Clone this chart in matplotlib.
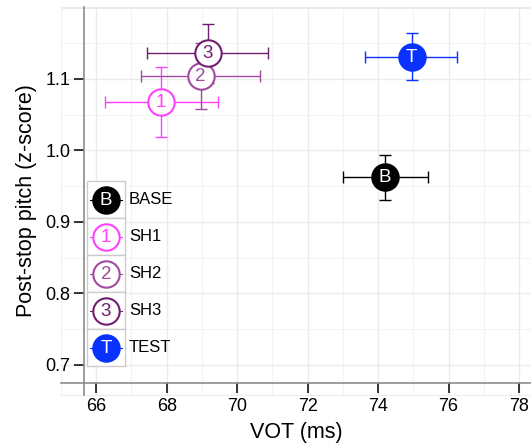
import numpy as np
import matplotlib
matplotlib.use("Agg")
from matplotlib import pyplot as plt
from matplotlib.patches import Rectangle

plt.rcParams['font.family'] = ['Liberation Sans', 'DejaVu Sans']

groups = ['BASE', 'SH1', 'SH2', 'SH3', 'TEST']
letters = ['B', '1', '2', '3', 'T']
colors = ['#000000', '#ff40ff', '#a04ba0', '#701e70', '#0a32ff']
filled = [True, False, False, False, True]

vot = [74.2, 67.84, 68.96, 69.17, 74.95]
vot_lo = [73.0, 66.24, 67.28, 67.45, 73.64]
vot_hi = [75.43, 69.46, 70.65, 70.87, 76.24]
pitch = [0.963, 1.068, 1.104, 1.136, 1.131]
pitch_lo = [0.931, 1.019, 1.058, 1.095, 1.098]
pitch_hi = [0.993, 1.117, 1.150, 1.177, 1.164]

x_ticks = [66, 68, 70, 72, 74, 76, 78]
y_ticks = [0.7, 0.8, 0.9, 1.0, 1.1]

fig = plt.figure(figsize=(5.31, 4.48), dpi=100)
ax = fig.add_axes([61 / 531, 1 - 395 / 448, 470 / 531, 388 / 448])
ax.set_xlim(65.248, 78.34)
ax.set_ylim(0.658, 1.2007)

# grille
ax.set_xticks(x_ticks)
ax.set_yticks(y_ticks)
ax.set_xticks(np.arange(65, 79, 2), minor=True)
ax.set_yticks([0.75, 0.85, 0.95, 1.05, 1.15], minor=True)
ax.grid(True, which='major', color='#ebebeb', linewidth=1.0)
ax.grid(True, which='minor', color='#f3f3f3', linewidth=0.8)
ax.set_axisbelow(True)
ax.axhline(1.2, color='#e6e6e6', linewidth=1.2, zorder=0)
ax.tick_params(which='minor', length=0)

# axes décalés
for s in ['top', 'right']:
    ax.spines[s].set_visible(False)
ax.spines['left'].set_position(('data', 65.666))
ax.spines['bottom'].set_position(('data', 0.675))
for s in ['left', 'bottom']:
    ax.spines[s].set_color('#8c8c8c')
    ax.spines[s].set_linewidth(1.2)
ax.plot([0, 0], [0, 1], transform=ax.transAxes, color='#ececec', lw=0.8, clip_on=False, zorder=0.1)
ax.plot([0, 1], [0, 0], transform=ax.transAxes, color='#ececec', lw=0.8, clip_on=False, zorder=0.1)

ax.tick_params(which='major', length=7, width=1.1, color='black', labelsize=13)
ax.tick_params(axis='x', pad=4)
ax.tick_params(axis='y', pad=3)
ax.set_xticklabels([str(t) for t in x_ticks])
ax.set_yticklabels(['%.1f' % t for t in y_ticks])
ax.set_xlabel('VOT (ms)', fontsize=15.5, labelpad=5)
ax.set_ylabel('Post-stop pitch (z-score)', fontsize=15.5, labelpad=6)

# barres d'erreur
for i in range(len(groups)):
    ax.errorbar(vot[i], pitch[i],
                xerr=[[vot[i] - vot_lo[i]], [vot_hi[i] - vot[i]]],
                yerr=[[pitch[i] - pitch_lo[i]], [pitch_hi[i] - pitch[i]]],
                fmt='none', ecolor=colors[i], elinewidth=1.0, capsize=4, capthick=1.0, zorder=2)

# points avec lettres
for i in range(len(groups)):
    face = colors[i] if filled[i] else 'white'
    ax.plot(vot[i], pitch[i], 'o', ms=19, mfc=face, mec=colors[i], mew=1.5, zorder=3 + i)
    ax.text(vot[i], pitch[i] - 0.001, letters[i], ha='center', va='center', fontsize=13.5,
            color='white' if filled[i] else colors[i], zorder=3 + i)

# légende
lx0, lx1 = 0.0553, 0.1355
ltop, kh = 0.5515, 0.0954
for i in range(len(groups)):
    y0 = ltop - (i + 1) * kh
    ax.add_patch(Rectangle((lx0, y0), lx1 - lx0, kh, transform=ax.transAxes,
                           facecolor='white', edgecolor='#cccccc', lw=1.0, zorder=10))
    cx, cy = (lx0 + lx1) / 2, y0 + kh / 2
    ax.plot([lx0 + 0.006, lx1 - 0.006], [cy, cy], transform=ax.transAxes,
            color=colors[i], lw=0.8, zorder=11)
    face = colors[i] if filled[i] else 'white'
    ax.plot(cx, cy, 'o', transform=ax.transAxes, ms=19, mfc=face, mec=colors[i],
            mew=1.5, zorder=12)
    ax.text(cx, cy - 0.002, letters[i], transform=ax.transAxes, ha='center', va='center',
            fontsize=13.5, color='white' if filled[i] else colors[i], zorder=13)
    ax.text(0.1447, cy, groups[i], transform=ax.transAxes, ha='left', va='center',
            fontsize=12, zorder=13)

plt.savefig("out.png")
plt.close(fig)
